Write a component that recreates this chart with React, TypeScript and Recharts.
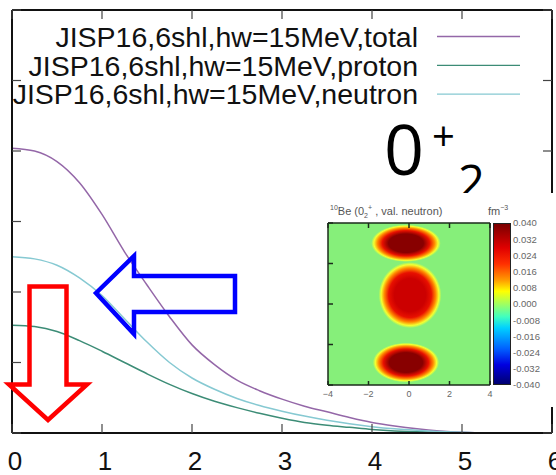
import React from 'react';
import {
  LineChart,
  Line,
  XAxis,
  YAxis,
  Legend,
  ScatterChart,
  Scatter,
  CartesianGrid,
} from 'recharts';

// radius r (fm) and densities
const rValues = [0, 0.25, 0.5, 0.75, 1, 1.25, 1.5, 1.75, 2, 2.25, 2.5, 2.75, 3, 3.25, 3.5, 3.75, 4, 4.25, 4.5, 4.75, 5, 5.25, 5.5, 5.75, 6];
const totalDensity = [4.04, 4.0, 3.85, 3.55, 3.1, 2.57, 2.1, 1.65, 1.25, 0.97, 0.75, 0.6, 0.48, 0.38, 0.3, 0.22, 0.15, 0.1, 0.06, 0.03, 0.01, 0, 0, 0, 0];
const protonDensity = [1.53, 1.51, 1.44, 1.31, 1.16, 1.0, 0.84, 0.69, 0.56, 0.45, 0.36, 0.28, 0.21, 0.15, 0.11, 0.08, 0.05, 0.03, 0.02, 0.01, 0, 0, 0, 0, 0];
const neutronDensity = [2.5, 2.47, 2.38, 2.2, 1.95, 1.62, 1.29, 1.0, 0.78, 0.62, 0.49, 0.39, 0.31, 0.24, 0.18, 0.13, 0.09, 0.06, 0.04, 0.02, 0.01, 0, 0, 0, 0];

const xTicks = [0, 1, 2, 3, 4, 5, 6];
const yTicks = [0, 1, 2, 3, 4, 5, 6];

const seriesNames = [
  'JISP16,6shl,hw=15MeV,total',
  'JISP16,6shl,hw=15MeV,proton',
  'JISP16,6shl,hw=15MeV,neutron',
];
const seriesColors = ['#9467a8', '#3c8c76', '#86c9d2'];

// inset: valence neutron density map
const insetTicks = [-4, -2, 0, 2, 4];
const insetYTicks = [-4, -2, 0, 2, 4];
const colorbarTicks = [0.04, 0.032, 0.024, 0.016, 0.008, 0, -0.008, -0.016, -0.024, -0.032, -0.04];
const blobX = [-0.15, 0.05, -0.15];
const blobY = [3.0, 0.44, -2.89];
const blobRx = [1.72, 1.55, 1.64];
const blobRy = [0.92, 1.63, 0.98];
const blobCore = ['#880000', '#cc0000', '#880000'];

const rows = rValues.map((r, i) => ({
  r,
  total: totalDensity[i],
  proton: protonDensity[i],
  neutron: neutronDensity[i],
}));

const blobs = blobX.map((x, i) => ({ id: i, x, y: blobY[i], rx: blobRx[i], ry: blobRy[i] }));

const FONT = '"Liberation Sans", Arial, sans-serif';
const INSET_PX_PER_UNIT = 162 / 8;

const LegendBox = ({ payload }: any) => {
  const items = [...(payload || [])].sort(
    (a: any, b: any) => seriesNames.indexOf(a.value) - seriesNames.indexOf(b.value)
  );
  return (
    <svg width={556} height={120} style={{ display: 'block' }}>
      {items.map((p: any, i: number) => {
        const cy = 36.5 + i * 28.8;
        return (
          <g key={i}>
            <text x={418} y={cy + 10.3} textAnchor="end" fontSize={28.5} fontFamily={FONT} fill="#111">
              {p.value}
            </text>
            <line x1={437} x2={520} y1={cy} y2={cy} stroke={p.color} strokeWidth={1.3} />
          </g>
        );
      })}
    </svg>
  );
};

// gnuplot style: tick marks point into the plot
const tickPen = { stroke: '#444', strokeWidth: 1.2 };
const BottomTick = ({ x, y, payload }: any) => (
  <g>
    <line x1={x} x2={x} y1={y} y2={y - 9} {...tickPen} />
    <text x={x + 3} y={y + 36.5} textAnchor="middle" fontSize={26} fontFamily={FONT} fill="#111">
      {payload.value}
    </text>
  </g>
);
const TopTick = ({ x, y }: any) => <line x1={x} x2={x} y1={y} y2={y + 9} {...tickPen} />;
const LeftTick = ({ x, y }: any) => <line x1={x} x2={x + 9} y1={y} y2={y} {...tickPen} />;
const RightTick = ({ x, y }: any) => <line x1={x} x2={x - 9} y1={y} y2={y} {...tickPen} />;

const insetPen = { stroke: '#1b2b1b', strokeWidth: 1.5 };
const InsetBottomTick = ({ x, y, payload }: any) => (
  <g>
    <line x1={x} x2={x} y1={y} y2={y - 4} {...insetPen} />
    <text x={x} y={y + 12} textAnchor="middle" fontSize={9} fontFamily={FONT} fill="#666">
      {payload.value < 0 ? `−${-payload.value}` : payload.value}
    </text>
  </g>
);
const InsetTopTick = ({ x, y }: any) => <line x1={x} x2={x} y1={y} y2={y + 5} {...insetPen} />;
const InsetLeftTick = ({ x, y }: any) => <line x1={x} x2={x + 5} y1={y} y2={y} {...insetPen} />;

const Blob = (props: any) => {
  const { cx, cy, payload } = props;
  return (
    <ellipse
      cx={cx}
      cy={cy}
      rx={payload.rx * INSET_PX_PER_UNIT}
      ry={payload.ry * INSET_PX_PER_UNIT}
      fill={`url(#blob-${payload.id})`}
    />
  );
};

const axisStyle = { stroke: '#111', strokeWidth: 2 };
const insetAxis = { stroke: '#1b2b1b', strokeWidth: 1.5 };

export default function App() {
  return (
    <div style={{ position: 'absolute', left: 0, top: 0, width: 556, height: 475, background: '#fff', overflow: 'hidden' }}>
      <LineChart width={556} height={475} data={rows} margin={{ top: 0, right: 3, bottom: 0, left: 11 }}>
        <XAxis
          xAxisId="b"
          dataKey="r"
          type="number"
          domain={[0, 6]}
          ticks={xTicks}
          interval={0}
          allowDataOverflow
          height={42}
          axisLine={axisStyle}
          tickLine={false}
          tickSize={0}
          tickMargin={0}
          tick={<BottomTick />}
        />
        <XAxis
          xAxisId="t"
          orientation="top"
          dataKey="r"
          type="number"
          domain={[0, 6]}
          ticks={xTicks}
          interval={0}
          allowDataOverflow
          height={10}
          axisLine={axisStyle}
          tickLine={false}
          tickSize={0}
          tickMargin={0}
          tick={<TopTick />}
        />
        <YAxis
          yAxisId="l"
          type="number"
          domain={[0, 6]}
          ticks={yTicks}
          interval={0}
          allowDataOverflow
          width={1}
          axisLine={axisStyle}
          tickLine={false}
          tickSize={0}
          tickMargin={0}
          tick={<LeftTick />}
        />
        <YAxis
          yAxisId="r"
          orientation="right"
          type="number"
          domain={[0, 6]}
          ticks={yTicks}
          interval={0}
          allowDataOverflow
          width={1}
          axisLine={axisStyle}
          tickLine={false}
          tickSize={0}
          tickMargin={0}
          tick={<RightTick />}
        />
        <Legend
          layout="vertical"
          align="center"
          verticalAlign="middle"
          wrapperStyle={{ left: 0, top: 0, width: 556, height: 120 }}
          content={<LegendBox />}
        />
        <Line xAxisId="b" yAxisId="l" type="monotone" dataKey="total" name={seriesNames[0]} stroke={seriesColors[0]} strokeWidth={1.5} dot={false} isAnimationActive={false} />
        <Line xAxisId="b" yAxisId="l" type="monotone" dataKey="proton" name={seriesNames[1]} stroke={seriesColors[1]} strokeWidth={1.5} dot={false} isAnimationActive={false} />
        <Line xAxisId="b" yAxisId="l" type="monotone" dataKey="neutron" name={seriesNames[2]} stroke={seriesColors[2]} strokeWidth={1.5} dot={false} isAnimationActive={false} />
      </LineChart>

      {/* annotations drawn on top of the plot */}
      <svg width={556} height={475} style={{ position: 'absolute', left: 0, top: 0, pointerEvents: 'none' }}>
        <polygon
          points="29.5,286.5 66.5,286.5 66.5,384.5 87,384.5 48,420 9,384.5 29.5,384.5"
          fill="none"
          stroke="#ff0000"
          strokeWidth={4.5}
        />
        <polygon
          points="96,293 134,256 134,276 235,276 235,312 134,312 134,334"
          fill="none"
          stroke="#0000ff"
          strokeWidth={4.5}
        />
        <text x={384} y={175} fontSize={70} fontFamily='"Open Sans", sans-serif' fill="#000">0</text>
        <text x={432} y={151} fontSize={40} fontFamily='"Open Sans", sans-serif' fill="#000">+</text>
        <text x={458} y={199} fontSize={47} fontFamily='"Open Sans", sans-serif' fill="#000">2</text>
      </svg>

      {/* inset density map */}
      <div style={{ position: 'absolute', left: 320, top: 193, width: 236, height: 214, background: '#fff' }}>
        <div
          style={{
            position: 'absolute',
            left: 173,
            top: 30,
            width: 18,
            height: 162,
            boxSizing: 'border-box',
            border: '1px solid #222',
            background:
              'linear-gradient(to bottom, #7a0000 0%, #e00000 15%, #ff3000 25%, #ff9a00 35%, #ffff00 42%, #a0ff60 50%, #40ffc0 58%, #00d0ff 65%, #0060ff 78%, #0000e0 88%, #000070 100%)',
          }}
        />
        <div style={{ position: 'absolute', left: 10, top: 11, fontSize: 11, fontFamily: FONT, color: '#555', whiteSpace: 'nowrap' }}>
          <sup style={{ fontSize: 7 }}>10</sup>Be (0<sub style={{ fontSize: 7 }}>2</sub>
          <sup style={{ fontSize: 7 }}>+</sup> , val. neutron)
        </div>
        <div style={{ position: 'absolute', left: 168, top: 11, fontSize: 11, fontFamily: FONT, color: '#555' }}>
          fm<sup style={{ fontSize: 7 }}>−3</sup>
        </div>
        <ScatterChart width={236} height={214} margin={{ top: 20, right: 65, bottom: 0, left: 7 }} style={{ position: 'absolute', left: 0, top: 0 }}>
          <defs>
            {blobs.map((b) => (
              <radialGradient key={b.id} id={`blob-${b.id}`}>
                <stop offset="0%" stopColor={blobCore[b.id]} />
                <stop offset="50%" stopColor={blobCore[b.id]} />
                <stop offset="68%" stopColor="#e81000" />
                <stop offset="82%" stopColor="#ff8a00" />
                <stop offset="92%" stopColor="#f4ff30" />
                <stop offset="100%" stopColor="#86ef7a" />
              </radialGradient>
            ))}
          </defs>
          <CartesianGrid xAxisId="ib" yAxisId="il" fill="#86ef7a" horizontal={false} vertical={false} />
          <XAxis
            xAxisId="ib"
            dataKey="x"
            type="number"
            domain={[-4, 4]}
            ticks={insetTicks}
            interval={0}
            allowDataOverflow
            height={22}
            axisLine={insetAxis}
            tickLine={false}
            tickSize={0}
            tickMargin={0}
            tick={<InsetBottomTick />}
          />
          <XAxis
            xAxisId="it"
            orientation="top"
            dataKey="x"
            type="number"
            domain={[-4, 4]}
            ticks={insetTicks}
            interval={0}
            allowDataOverflow
            height={10}
            axisLine={insetAxis}
            tickLine={false}
            tickSize={0}
            tickMargin={0}
            tick={<InsetTopTick />}
          />
          <YAxis
            yAxisId="il"
            dataKey="y"
            type="number"
            domain={[-4, 4]}
            ticks={insetYTicks}
            interval={0}
            allowDataOverflow
            width={1}
            axisLine={insetAxis}
            tickLine={false}
            tickSize={0}
            tickMargin={0}
            tick={<InsetLeftTick />}
          />
          <YAxis
            yAxisId="cb"
            orientation="right"
            type="number"
            domain={[-0.04, 0.04]}
            ticks={colorbarTicks}
            interval={0}
            allowDataOverflow
            width={1}
            axisLine={insetAxis}
            tickLine={false}
            tickSize={0}
            tickMargin={23}
            tickFormatter={(v: number) => v.toFixed(3)}
            tick={{ fill: '#666', fontSize: 9.5, fontFamily: FONT }}
          />
          <Scatter xAxisId="ib" yAxisId="il" data={blobs} shape={<Blob />} isAnimationActive={false} />
        </ScatterChart>
      </div>
    </div>
  );
}
